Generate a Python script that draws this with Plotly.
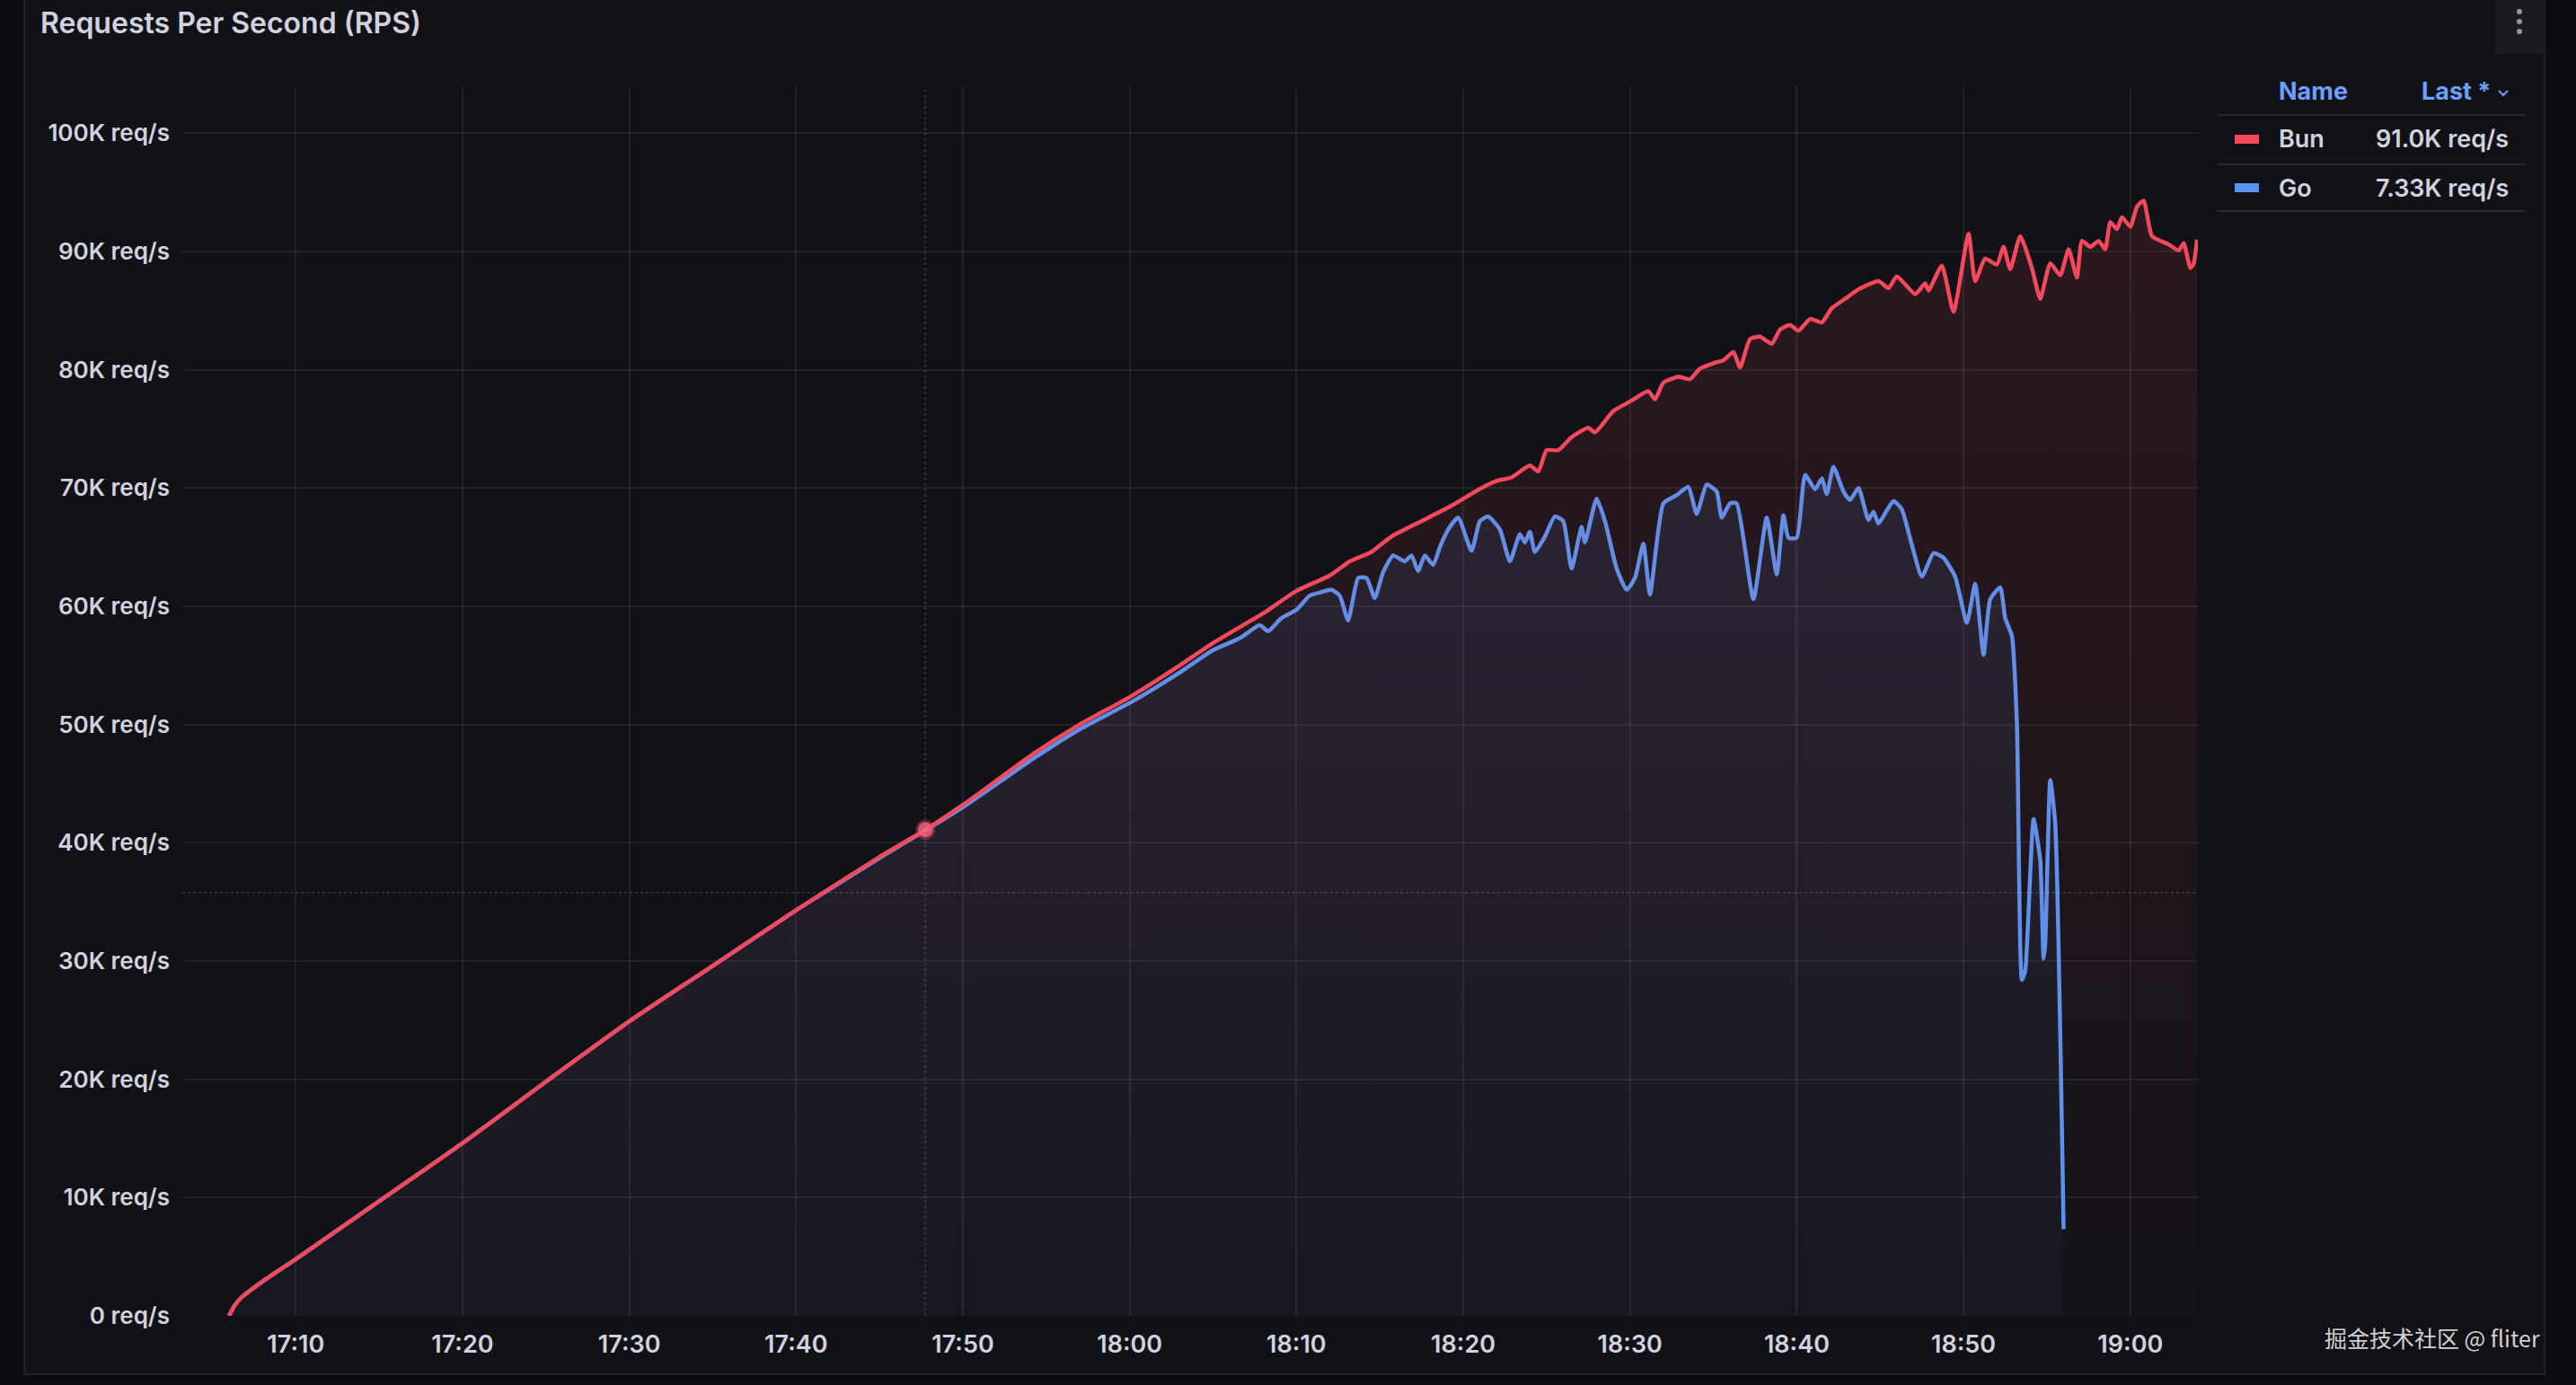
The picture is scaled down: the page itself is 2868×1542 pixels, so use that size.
import numpy as np
import pandas as pd
import plotly.graph_objects as go

# ---------------- data (minutes after 17:00, values in K req/s) ----------------
BUN_MIN = [6.0, 6.3, 6.7, 8, 10, 15, 20, 25, 30, 35, 40, 45, 47.75, 50, 54.2, 57, 60.1, 63, 65,
           68, 70, 72, 73.2, 74.5, 75.7, 77.5, 79.3, 81.1, 82.0, 82.9, 84.0, 84.5, 85.0, 85.7,
           86.5, 87.5, 87.9, 89.0, 90.1, 91.1, 91.5, 92.0, 92.9, 93.6, 94.2, 95.1, 95.6, 96.2,
           96.6, 97.2, 97.8, 98.5, 99.0, 99.6, 100.1, 100.8, 101.5, 102.1, 103.0, 103.7, 104.9,
           105.5, 106.0, 107.1, 107.7, 107.9, 108.7, 109.4, 110.3, 110.7, 111.3, 112.0, 112.4,
           112.8, 113.4, 114.1, 114.6, 115.2, 115.8, 116.3, 116.8, 117.1, 117.6, 118.1, 118.5,
           118.8, 119.2, 119.5, 120.0, 120.4, 120.8, 121.3, 122.3, 122.9, 123.2, 123.6, 123.8, 124.0]
BUN_VAL = [0, 0.8, 1.5, 2.9, 4.8, 9.7, 14.6, 19.8, 24.9, 29.6, 34.3, 38.8, 41.1, 43.2, 47.5, 50.0,
           52.4, 55.0, 56.9, 59.4, 61.3, 62.6, 63.8, 64.6, 65.9, 67.2, 68.5, 70.0, 70.6, 70.9, 71.9,
           71.4, 73.2, 73.2, 74.3, 75.1, 74.7, 76.5, 77.4, 78.2, 77.5, 78.9, 79.4, 79.2, 80.1, 80.6,
           80.8, 81.5, 80.2, 82.6, 82.8, 82.2, 83.4, 83.8, 83.3, 84.3, 84.0, 85.2, 86.1, 86.8, 87.5,
           86.9, 87.9, 86.4, 87.3, 86.7, 88.8, 84.9, 91.5, 87.5, 89.4, 88.9, 90.4, 88.5, 91.3, 88.6,
           86.0, 89.0, 88.0, 90.2, 87.8, 90.9, 90.4, 90.9, 90.2, 92.5, 91.9, 92.9, 92.1, 93.8, 94.3,
           91.3, 90.6, 90.1, 90.7, 88.6, 89.0, 91.0]

GO_MIN = [6.0, 6.3, 6.7, 8, 10, 15, 20, 25, 30, 35, 40, 45, 50, 54.2, 57, 60.1, 63, 65, 66.6, 67.8,
          68.3, 69.1, 70.0, 70.8, 71.5, 72.1, 72.6, 73.1, 73.7, 74.2, 74.7, 75.2, 75.8, 76.5, 76.9,
          77.3, 77.7, 78.2, 78.6, 79.1, 79.7, 80.5, 81.0, 81.5, 82.2, 82.8, 83.4, 83.7, 84.0, 84.3,
          84.9, 85.5, 86.0, 86.5, 87.1, 87.3, 88.0, 88.5, 89.2, 89.8, 90.3, 90.8, 91.2, 92.0, 92.8,
          93.5, 94.0, 94.6, 95.2, 95.5, 96.0, 96.4, 97.4, 98.2, 98.8, 99.2, 99.5, 100.0, 100.5,
          101.1, 101.5, 101.8, 102.2, 102.8, 103.2, 103.7, 104.3, 104.6, 104.9, 105.4, 105.8, 106.3,
          106.9, 107.5, 108.2, 108.8, 109.5, 110.2, 110.7, 111.2, 111.6, 112.2, 112.5, 112.9, 113.2,
          113.5, 113.7, 114.2, 114.6, 114.8, 114.9, 115.2, 115.5, 116.0]
GO_VAL = [0, 0.8, 1.5, 2.9, 4.8, 9.7, 14.6, 19.8, 24.9, 29.6, 34.3, 38.7, 43.0, 47.1, 49.6, 51.9,
          54.4, 56.3, 57.3, 58.4, 57.9, 59.0, 59.7, 60.9, 61.2, 61.4, 60.9, 58.8, 62.4, 62.4, 60.7,
          62.9, 64.3, 63.8, 64.3, 63.0, 64.3, 63.5, 65.0, 66.5, 67.5, 64.7, 67.2, 67.6, 66.5, 63.8,
          66.1, 65.4, 66.3, 64.6, 65.9, 67.6, 67.2, 63.2, 66.7, 65.4, 69.1, 67.2, 63.2, 61.4, 62.4,
          65.3, 61.0, 68.7, 69.4, 70.1, 67.8, 70.3, 69.7, 67.5, 68.7, 68.7, 60.6, 67.5, 62.7, 67.7,
          65.8, 65.8, 71.1, 69.9, 70.8, 69.5, 71.8, 69.7, 69.0, 70.0, 67.3, 68.0, 67.0, 68.1, 68.9,
          68.2, 65.2, 62.5, 64.5, 64.1, 62.5, 58.6, 61.9, 55.9, 60.6, 61.6, 59.0, 57.5, 50.1, 28.4,
          29.2, 42.0, 38.5, 30.2, 31.5, 45.3, 41.6, 7.33]

Y_TICKS = [0, 10, 20, 30, 40, 50, 60, 70, 80, 90, 100]
Y_TICK_LABELS = ["0 req/s", "10K req/s", "20K req/s", "30K req/s", "40K req/s", "50K req/s",
                 "60K req/s", "70K req/s", "80K req/s", "90K req/s", "100K req/s"]
X_TICK_MIN = [10, 20, 30, 40, 50, 60, 70, 80, 90, 100, 110, 120]
X_TICK_LABELS = ["17:10", "17:20", "17:30", "17:40", "17:50", "18:00", "18:10", "18:20",
                 "18:30", "18:40", "18:50", "19:00"]
SERIES_NAMES = ["Bun", "Go"]
HOVER_MIN = 47.75      # crosshair time
CROSS_Y = 35.8         # crosshair horizontal value

BASE = pd.Timestamp("2024-01-01 17:00:00")


def tm(m):
    return BASE + pd.to_timedelta(np.asarray(m, dtype=float), unit="m")


BUN_C = "#F2495C"
GO_C = "#5794F2"
TXT = "rgb(210,210,222)"
W, H = 2868, 1542
PL, PR, PT, PB = 203, 2447, 97, 1465


def px(x):
    return (x - PL) / (PR - PL)


def py(y):
    return (PB - y) / (PB - PT)


fig = go.Figure()
fig.add_trace(go.Scatter(
    x=tm(GO_MIN), y=GO_VAL, name=SERIES_NAMES[1], mode="lines",
    line=dict(color=GO_C, width=4.5, shape="spline", smoothing=0.5),
    fill="tozeroy",
    fillgradient=dict(type="vertical", start=0, stop=75,
                      colorscale=[[0, "rgba(87,148,242,0.03)"], [1, "rgba(87,148,242,0.11)"]]),
    hoverinfo="skip"))
fig.add_trace(go.Scatter(
    x=tm(BUN_MIN), y=BUN_VAL, name=SERIES_NAMES[0], mode="lines",
    line=dict(color=BUN_C, width=4.5, shape="spline", smoothing=0.5),
    fill="tozeroy",
    fillgradient=dict(type="vertical", start=0, stop=95,
                      colorscale=[[0, "rgba(242,73,92,0.02)"], [1, "rgba(242,73,92,0.12)"]]),
    hoverinfo="skip"))

# hover marker on Bun at crosshair time
hv = float(np.interp(HOVER_MIN, BUN_MIN, BUN_VAL))
fig.add_trace(go.Scatter(
    x=tm([HOVER_MIN]), y=[hv], mode="markers",
    marker=dict(size=17, color="rgba(236,100,125,0.85)",
                line=dict(width=5, color="rgba(242,73,92,0.35)")),
    hoverinfo="skip", showlegend=False))

shapes = []
# panel
shapes.append(dict(type="rect", xref="paper", yref="paper", x0=px(27), x1=px(2833), y0=py(1530), y1=py(-10),
                   fillcolor="#111217", line=dict(color="rgba(204,204,220,0.10)", width=2), layer="below"))
# crosshair
shapes.append(dict(type="line", xref="x", yref="paper", x0=tm([HOVER_MIN])[0], x1=tm([HOVER_MIN])[0],
                   y0=0, y1=1, line=dict(color="rgba(204,204,220,0.22)", width=1.5, dash="dot")))
shapes.append(dict(type="line", xref="paper", yref="y", x0=0, x1=1, y0=CROSS_Y, y1=CROSS_Y,
                   line=dict(color="rgba(204,204,220,0.22)", width=1.5, dash="dot")))
# legend separators
for yy in [128, 183, 235]:
    shapes.append(dict(type="line", xref="paper", yref="paper", x0=px(2468), x1=px(2812), y0=py(yy), y1=py(yy),
                       line=dict(color="rgba(204,204,220,0.12)", width=2)))
# legend swatches
for yy, c in [(155, BUN_C), (209, GO_C)]:
    shapes.append(dict(type="line", xref="paper", yref="paper", x0=px(2488), x1=px(2515), y0=py(yy), y1=py(yy),
                       line=dict(color=c, width=10)))
# chevron after "Last *"
shapes.append(dict(type="path", xref="paper", yref="paper",
                   path=f"M {px(2782)} {py(101)} L {px(2787)} {py(106)} L {px(2792)} {py(101)}",
                   line=dict(color="#6E9FFF", width=2)))
# menu button
shapes.append(dict(type="rect", xref="paper", yref="paper", x0=px(2778), x1=px(2833), y0=py(60), y1=py(-5),
                   fillcolor="rgb(27,28,33)", line=dict(width=0)))
for yy in [13, 24, 35]:
    shapes.append(dict(type="circle", xref="paper", yref="paper", x0=px(2802), x1=px(2808),
                       y0=py(yy + 3), y1=py(yy - 3), fillcolor="rgb(150,150,160)", line=dict(width=0)))


def fmt_last(v):
    return f"{v:#.3g}K req/s"


ann = []
ann.append(dict(text="Requests Per Second (RPS)", xref="paper", yref="paper", x=px(43), y=py(25),
                xanchor="left", yanchor="middle", showarrow=False,
                font=dict(family="Inter", size=32, color=TXT, weight=600)))
ann.append(dict(text="Name", xref="paper", yref="paper", x=px(2535), y=py(102), xanchor="left",
                yanchor="middle", showarrow=False, font=dict(family="Inter", size=27, color="#6E9FFF", weight=700)))
ann.append(dict(text="Last *", xref="paper", yref="paper", x=px(2775), y=py(102), xanchor="right",
                yanchor="middle", showarrow=False, font=dict(family="Inter", size=27, color="#6E9FFF", weight=700)))
for name, vals, yy in [(SERIES_NAMES[0], BUN_VAL, 155), (SERIES_NAMES[1], GO_VAL, 209)]:
    ann.append(dict(text=name, xref="paper", yref="paper", x=px(2535), y=py(yy), xanchor="left",
                    yanchor="middle", showarrow=False, font=dict(family="Inter", size=27, color=TXT, weight=600)))
    ann.append(dict(text=fmt_last(vals[-1]), xref="paper", yref="paper", x=px(2795), y=py(yy), xanchor="right",
                    yanchor="middle", showarrow=False, font=dict(family="Inter", size=27, color=TXT, weight=600)))
ann.append(dict(text="掘金技术社区 @ fliter", xref="paper", yref="paper", x=px(2830), y=py(1489),
                xanchor="right", yanchor="middle", showarrow=False,
                font=dict(family="Noto Sans CJK SC", size=25, color="rgba(235,235,235,0.9)")))

fig.update_layout(
    width=W, height=H,
    margin=dict(l=PL, r=W - PR, t=PT, b=H - PB, pad=0),
    paper_bgcolor="#0c0d10", plot_bgcolor="rgba(0,0,0,0)",
    showlegend=False, shapes=shapes, annotations=ann,
    font=dict(family="Inter", color=TXT),
)
fig.update_xaxes(
    type="date", range=[tm([3.2])[0], tm([124.05])[0]],
    tickvals=list(tm(X_TICK_MIN)), ticktext=X_TICK_LABELS,
    showgrid=True, gridcolor="rgba(204,204,220,0.09)", gridwidth=1.5,
    zeroline=False, showline=False, ticks="",
    tickfont=dict(family="Inter", size=27, color=TXT, weight=600), ticklabelstandoff=13,
)
fig.update_yaxes(
    range=[0, 103.9], tickvals=Y_TICKS, ticktext=Y_TICK_LABELS,
    showgrid=True, gridcolor="rgba(204,204,220,0.09)", gridwidth=1.5,
    zeroline=False, showline=False, ticks="",
    tickfont=dict(family="Inter", size=26, color=TXT, weight=600), ticklabelstandoff=13,
)

fig.write_html(
    "out.html",
    config={"displayModeBar": False},
    post_script="document.body.style.margin='0';document.body.style.background='#0c0d10';"
                "document.documentElement.style.overflow='hidden';",
)
